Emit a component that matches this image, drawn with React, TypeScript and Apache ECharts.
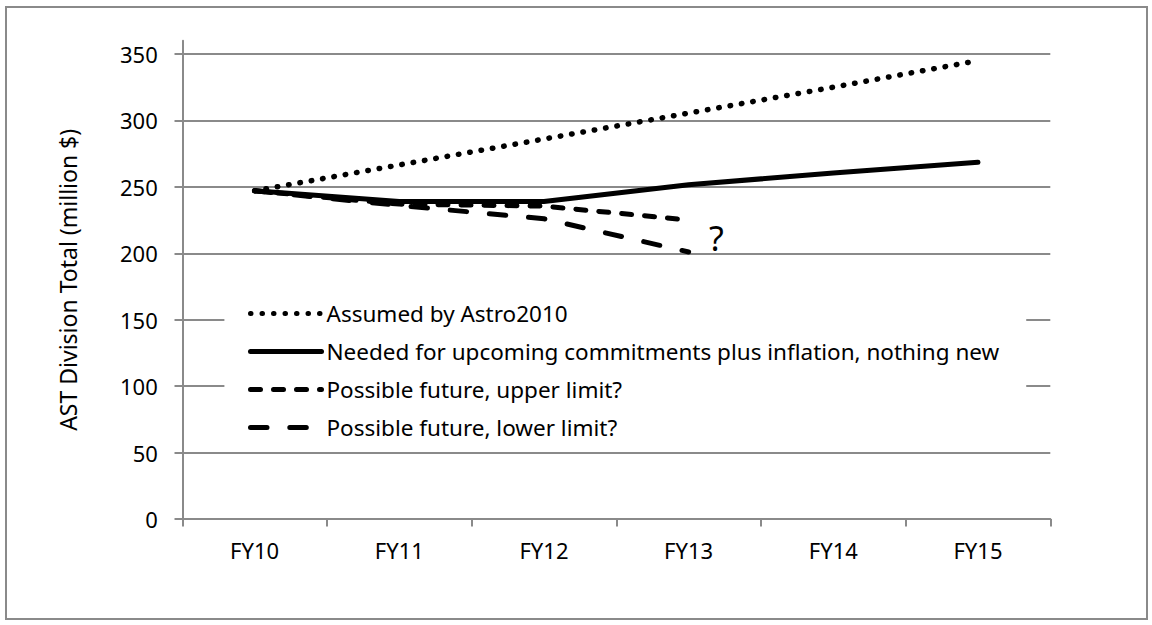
import React, { useEffect, useRef } from "react";
import * as echarts from "echarts";

const categories = ["FY10", "FY11", "FY12", "FY13", "FY14", "FY15"];
const assumedAstro2010 = [247, 266.5, 286, 305.5, 325, 345];
const neededCommitments = [247, 239, 239, 251.5, 260.5, 268.5];
const upperLimit = [247, 237, 235.5, 225];
const lowerLimit = [247, 236, 226, 201];
const yTicks = [0, 50, 100, 150, 200, 250, 300, 350];

const seriesNames = [
  "Assumed by Astro2010",
  "Needed for upcoming commitments plus inflation, nothing new",
  "Possible future, upper limit?",
  "Possible future, lower limit?",
];

const FONT = "'Noto Sans', 'Open Sans', sans-serif";

export default function App() {
  const ref = useRef<HTMLDivElement>(null);

  useEffect(() => {
    if (!ref.current) return;
    const chart = echarts.init(ref.current, undefined, { renderer: "svg" });
    const gray = "#8a8a8a";
    chart.setOption({
      animation: false,
      backgroundColor: "#ffffff",
      grid: { left: 182.3, right: 101.7, top: 40.7, bottom: 106, containLabel: false },
      xAxis: {
        type: "category",
        data: categories,
        boundaryGap: true,
        axisLine: { lineStyle: { color: gray, width: 2 } },
        axisTick: { show: true, length: 7.5, lineStyle: { color: gray, width: 2 } },
        axisLabel: { color: "#000", fontSize: 22, fontFamily: FONT, margin: 20 },
        splitLine: { show: false },
      },
      yAxis: {
        type: "value",
        min: 0,
        max: 360,
        interval: 50,
        name: "AST Division Total (million $)",
        nameLocation: "middle",
        nameGap: 103,
        nameTextStyle: { color: "#000", fontSize: 23, fontFamily: FONT },
        axisLine: { show: true, lineStyle: { color: gray, width: 2 } },
        axisTick: { show: true, length: 7.8, customValues: yTicks, lineStyle: { color: gray, width: 2 } },
        axisLabel: {
          color: "#000",
          fontSize: 22,
          fontFamily: FONT,
          margin: 24.5,
          customValues: yTicks,
        },
        splitLine: { show: true, lineStyle: { color: gray, width: 2 } },
      },
      legend: {
        orient: "vertical",
        left: 224.4,
        top: 290,
        padding: [12, 27, 8, 23.6],
        backgroundColor: "#ffffff",
        itemWidth: 71,
        itemHeight: 14,
        itemGap: 15,
        itemStyle: { opacity: 0 },
        lineStyle: { width: 5 },
        textStyle: { color: "#000", fontSize: 22.5, fontFamily: FONT, lineHeight: 22.5 },
        data: seriesNames,
      },
      series: [
        {
          name: seriesNames[0],
          type: "line",
          data: assumedAstro2010,
          symbol: "none",
          lineStyle: { color: "#000", width: 5.5, type: [0.5, 11], cap: "round" },
          itemStyle: { color: "#000" },
          z: 2,
        },
        {
          name: seriesNames[1],
          type: "line",
          data: neededCommitments,
          symbol: "none",
          lineStyle: { color: "#000", width: 5, type: "solid", cap: "round" },
          itemStyle: { color: "#000" },
          z: 3,
        },
        {
          name: seriesNames[2],
          type: "line",
          data: upperLimit,
          symbol: "none",
          lineStyle: { color: "#000", width: 5, type: [10, 13], cap: "round" },
          itemStyle: { color: "#000" },
          z: 4,
        },
        {
          name: seriesNames[3],
          type: "line",
          data: lowerLimit,
          symbol: "none",
          lineStyle: { color: "#000", width: 5, type: [16.5, 22.8], cap: "round" },
          itemStyle: { color: "#000" },
          z: 4,
        },
      ],
      graphic: [
        {
          type: "text",
          x: 709,
          y: 238,
          style: {
            text: "?",
            fontSize: 34,
            fontFamily: FONT,
            fill: "#000",
            textVerticalAlign: "middle",
          },
        },
      ],
    });
    return () => chart.dispose();
  }, []);

  return (
    <div style={{ position: "fixed", left: 0, top: 0, width: 1152, height: 625, background: "#fff" }}>
      <div ref={ref} style={{ position: "absolute", left: 0, top: 0, width: 1152, height: 625 }} />
      <div
        style={{
          position: "absolute",
          left: 5,
          top: 6,
          width: 1143,
          height: 614,
          border: "2px solid #8a8a8a",
          boxSizing: "border-box",
          pointerEvents: "none",
        }}
      />
    </div>
  );
}
